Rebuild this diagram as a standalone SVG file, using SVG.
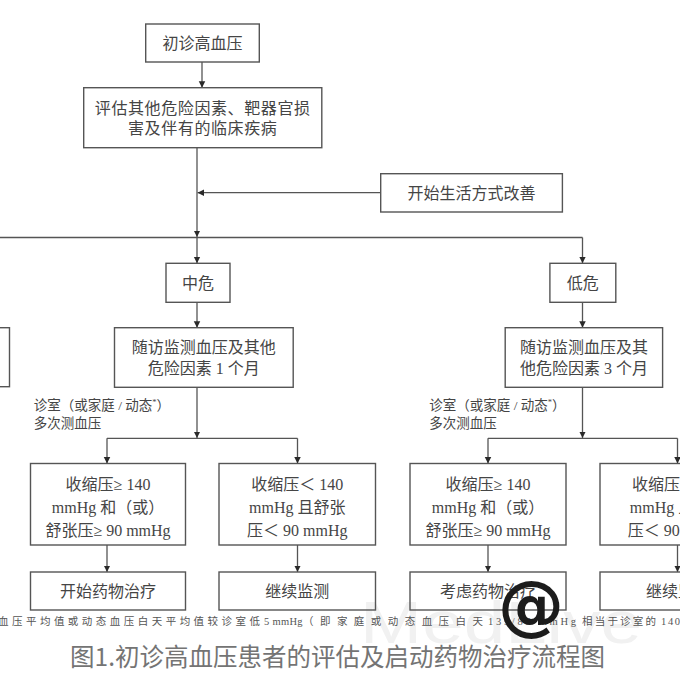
<svg xmlns="http://www.w3.org/2000/svg" width="680" height="680" viewBox="0 0 680 680">
<style>
.bx{fill:none;stroke:#555;stroke-width:1.4}
.ln{fill:none;stroke:#555;stroke-width:1.3}
.t{font-family:"Liberation Serif","Noto Sans CJK SC",serif;font-size:16px;fill:#454545;text-anchor:middle}
.lb{font-family:"Liberation Serif","Noto Sans CJK SC",serif;font-size:13.5px;fill:#454545}
.fn{font-family:"Liberation Serif","Noto Sans CJK SC",serif;font-size:10.5px;fill:#555}
.cap{font-family:"Noto Sans CJK SC","Noto Sans",sans-serif;font-size:24.5px;fill:#747474;text-anchor:middle}
</style>
<defs>
<marker id="ah" viewBox="0 0 10 10" refX="10" refY="5" markerUnits="userSpaceOnUse" markerWidth="6.5" markerHeight="9" orient="auto">
<path d="M0,0 L10,5 L0,10 z" fill="#2a2a2a"/>
</marker>
</defs>
<rect width="680" height="680" fill="#fff"/>
<text x="360" y="643" font-family="Liberation Sans, sans-serif" font-size="60" fill="#f1f1f1" textLength="282" lengthAdjust="spacingAndGlyphs">MedLive</text>

<g id="connectors">
<path class="ln" d="M202,62 V87.7" marker-end="url(#ah)"/>
<path class="ln" d="M197,147.7 V237" marker-end="url(#ah)"/>
<path class="ln" d="M380.7,192.7 H197.5" marker-end="url(#ah)"/>
<path class="ln" d="M0,237.5 H582.5"/>
<path class="ln" d="M197,237.5 V263.3" marker-end="url(#ah)"/>
<path class="ln" d="M582.5,237.5 V263.3" marker-end="url(#ah)"/>
<path class="ln" d="M197,302.3 V327.7" marker-end="url(#ah)"/>
<path class="ln" d="M582.5,302.3 V327.7" marker-end="url(#ah)"/>
<path class="ln" d="M197,387.3 V438" marker-end="url(#ah)"/>
<path class="ln" d="M582.5,387.3 V438" marker-end="url(#ah)"/>
<path class="ln" d="M107,438.3 H297.5"/>
<path class="ln" d="M488,438.3 H677.5"/>
<path class="ln" d="M107,438.3 V463.5" marker-end="url(#ah)"/>
<path class="ln" d="M297.5,438.3 V463.5" marker-end="url(#ah)"/>
<path class="ln" d="M488,438.3 V463.5" marker-end="url(#ah)"/>
<path class="ln" d="M677.5,438.3 V463.5" marker-end="url(#ah)"/>
<path class="ln" d="M107,545 V572" marker-end="url(#ah)"/>
<path class="ln" d="M297.5,545 V572" marker-end="url(#ah)"/>
<path class="ln" d="M488,545 V572" marker-end="url(#ah)"/>
<path class="ln" d="M677.5,545 V572" marker-end="url(#ah)"/>
</g>

<g id="n-start">
<rect class="bx" x="145.7" y="24" width="113.6" height="38"/>
<text class="t" x="202.5" y="48.5">初诊高血压</text>
</g>
<g id="n-assess">
<rect class="bx" x="83.7" y="87.7" width="238.1" height="60"/>
<text class="t" x="202.7" y="114" letter-spacing="0.6">评估其他危险因素、靶器官损</text>
<text class="t" x="202.7" y="134" letter-spacing="0.6">害及伴有的临床疾病</text>
</g>
<g id="n-lifestyle">
<rect class="bx" x="380.7" y="173.7" width="181.7" height="38.3"/>
<text class="t" x="471.5" y="198.5">开始生活方式改善</text>
</g>
<g id="n-mid">
<rect class="bx" x="166" y="263.3" width="64" height="39"/>
<text class="t" x="198" y="288.5">中危</text>
</g>
<g id="n-low">
<rect class="bx" x="549.9" y="263.3" width="65.9" height="39"/>
<text class="t" x="582.8" y="288.5">低危</text>
</g>
<g id="n-high-follow">
<rect class="bx" x="-20" y="327.7" width="29.5" height="59"/>
</g>
<g id="n-mid-follow">
<rect class="bx" x="114.5" y="327.7" width="178.7" height="59.6"/>
<text class="t" x="203.8" y="352.5">随访监测血压及其他</text>
<text class="t" x="203.8" y="374">危险因素 1 个月</text>
</g>
<g id="n-low-follow">
<rect class="bx" x="505.2" y="327.7" width="157.4" height="59.6"/>
<text class="t" x="583.9" y="352.5">随访监测血压及其</text>
<text class="t" x="583.9" y="374">他危险因素 3 个月</text>
</g>
<g id="lbl-mid">
<text class="lb" x="33.8" y="410">诊室（或家庭 / 动态<tspan font-size="8.5" dy="-5">*</tspan><tspan dy="5">）</tspan></text>
<text class="lb" x="33.8" y="427.5">多次测血压</text>
</g>
<g id="lbl-low">
<text class="lb" x="429.3" y="410">诊室（或家庭 / 动态<tspan font-size="8.5" dy="-5">*</tspan><tspan dy="5">）</tspan></text>
<text class="lb" x="429.3" y="427.5">多次测血压</text>
</g>

<g id="n-a1">
<rect class="bx" x="30.5" y="463.5" width="155" height="81.5"/>
<text class="t" x="108" y="489.5">收缩压≥ 140</text>
<text class="t" x="108" y="512.8">mmHg 和（或）</text>
<text class="t" x="108" y="535.5">舒张压≥ 90 mmHg</text>
</g>
<g id="n-b1">
<rect class="bx" x="219" y="463.5" width="156.5" height="81.5"/>
<text class="t" x="297.3" y="489.5">收缩压＜ 140</text>
<text class="t" x="297.3" y="512.8">mmHg 且舒张</text>
<text class="t" x="297.3" y="535.5">压＜ 90 mmHg</text>
</g>
<g id="n-c1">
<rect class="bx" x="410" y="463.5" width="156" height="81.5"/>
<text class="t" x="488" y="489.5">收缩压≥ 140</text>
<text class="t" x="488" y="512.8">mmHg 和（或）</text>
<text class="t" x="488" y="535.5">舒张压≥ 90 mmHg</text>
</g>
<g id="n-d1">
<rect class="bx" x="600" y="463.5" width="156" height="81.5"/>
<text class="t" x="678" y="489.5">收缩压＜ 140</text>
<text class="t" x="678" y="512.8">mmHg 且舒张</text>
<text class="t" x="678" y="535.5">压＜ 90 mmHg</text>
</g>
<g id="n-a2">
<rect class="bx" x="30.5" y="572" width="155" height="38"/>
<text class="t" x="108" y="597">开始药物治疗</text>
</g>
<g id="n-b2">
<rect class="bx" x="219" y="572" width="156.5" height="38"/>
<text class="t" x="297.3" y="597">继续监测</text>
</g>
<g id="n-c2">
<rect class="bx" x="410" y="572" width="156" height="38"/>
<text class="t" x="488" y="597">考虑药物治疗</text>
</g>
<g id="n-d2">
<rect class="bx" x="600" y="572" width="156" height="38"/>
<text class="t" x="678" y="597">继续监测</text>
</g>

<g id="footnote">
<text class="fn" x="-2" y="625" textLength="262" lengthAdjust="spacing">血压平均值或动态血压白天平均值较诊室低</text>
<text class="fn" x="264" y="625" letter-spacing="0.3">5 mmHg</text>
<text class="fn" x="303" y="625" textLength="180" lengthAdjust="spacing">（即家庭或动态血压白天</text>
<text class="fn" x="488" y="625" textLength="88" lengthAdjust="spacing">135/85 mmHg</text>
<text class="fn" x="582" y="625" textLength="74" lengthAdjust="spacing">相当于诊室的</text>
<text class="fn" x="661" y="625" textLength="19" lengthAdjust="spacing">140</text>
</g>
<text x="531" y="628" font-family="DejaVu Sans, sans-serif" font-weight="bold" font-size="66" fill="#1c1c1c" text-anchor="middle">@</text>
<text class="cap" x="337.5" y="666">图1.初诊高血压患者的评估及启动药物治疗流程图</text>
</svg>
